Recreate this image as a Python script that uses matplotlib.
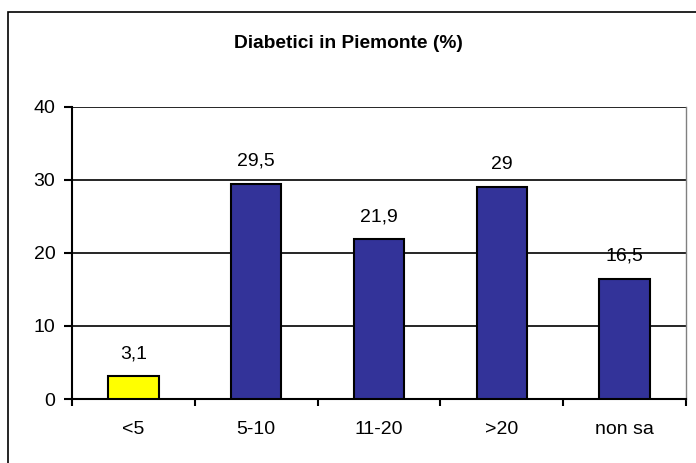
import matplotlib
matplotlib.use("Agg")
import matplotlib.pyplot as plt
from matplotlib.patches import Rectangle

plt.rcParams['font.family'] = ['Liberation Sans', 'DejaVu Sans']

categories = ['<5', '5-10', '11-20', '>20', 'non sa']
values = [3.1, 29.5, 21.9, 29, 16.5]
labels = ['3,1', '29,5', '21,9', '29', '16,5']
colors = ['#FFFF00', '#333399', '#333399', '#333399', '#333399']

fig = plt.figure(figsize=(6.96, 4.63), dpi=100)
ax = fig.add_axes([72 / 696, 1 - 399 / 463, 614 / 696, 292 / 463])

x = list(range(len(categories)))
ax.bar(x, values, width=0.41, color=colors, edgecolor='black', linewidth=1.5, zorder=3)
for xi, v, lab in zip(x, values, labels):
    ax.annotate(lab, (xi, v), xytext=(0, 10), textcoords='offset points',
                ha='center', va='bottom', fontsize=14, zorder=4)

ax.set_xlim(-0.5, 4.5)
ax.set_ylim(0, 40)
ax.set_yticks([0, 10, 20, 30, 40])
ax.yaxis.grid(True, color='black', linewidth=1.2, zorder=0)
ax.set_axisbelow(True)

ax.set_xticks([i - 0.5 for i in range(len(categories) + 1)])
ax.set_xticklabels([])
ax.set_xticks(x, minor=True)
ax.set_xticklabels(categories, minor=True, fontsize=14)
ax.tick_params(axis='x', which='minor', length=0, pad=16)
ax.tick_params(axis='x', which='major', length=5, width=1.5, direction='out')
ax.tick_params(axis='y', length=6, width=1.5, direction='out', labelsize=14, pad=6)

ax.spines['top'].set_visible(False)
ax.spines['left'].set_linewidth(1.5)
ax.spines['bottom'].set_linewidth(1.5)
ax.spines['right'].set_color('#808080')
ax.spines['right'].set_linewidth(1.0)

fig.text(348 / 696, 1 - 44 / 463, 'Diabetici in Piemonte (%)', ha='center', va='center',
         fontsize=13.8, fontweight='bold')

border = Rectangle((7.5 / 696, -0.1), 1.0, (463 - 11.5) / 463 + 0.1, transform=fig.transFigure,
                   fill=False, edgecolor='black', linewidth=1.2, clip_on=False)
fig.patches.append(border)

fig.savefig('out.png', dpi=100)
